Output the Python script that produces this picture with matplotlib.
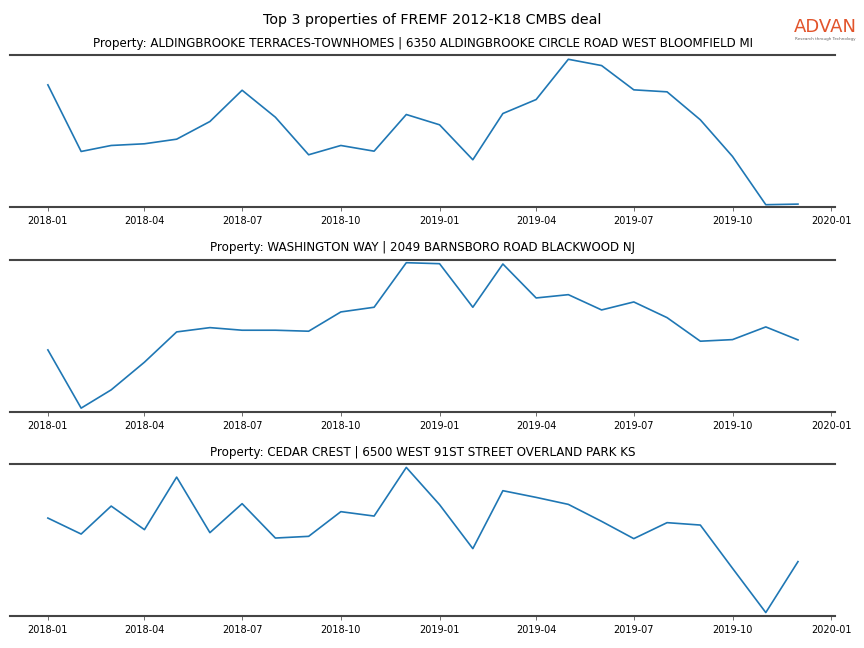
import matplotlib
matplotlib.use('Agg')
import matplotlib.pyplot as plt
import matplotlib.dates as mdates
import pandas as pd

months = pd.date_range('2018-01-01', '2019-12-01', freq='MS')

titles = [
    'Property: ALDINGBROOKE TERRACES-TOWNHOMES | 6350 ALDINGBROOKE CIRCLE ROAD WEST BLOOMFIELD MI',
    'Property: WASHINGTON WAY | 2049 BARNSBORO ROAD BLACKWOOD NJ',
    'Property: CEDAR CREST | 6500 WEST 91ST STREET OVERLAND PARK KS',
]

aldingbrooke = [122.7, 56, 62, 63.7, 68.3, 86, 117.3, 90.3, 52.7, 62, 56.3, 93,
                82.7, 47.7, 94, 108, 148.3, 142, 117.7, 115.7, 87.7, 51, 2.7, 3.3]
washington = [62, 3.7, 22, 49.7, 80, 84.3, 81.7, 81.7, 80.7, 100, 104.7, 149.3,
              148.3, 104.7, 148, 114, 117.3, 102, 110, 94.3, 70.7, 72.3, 85, 72]
cedar_crest = [98.3, 82.3, 110.3, 86.7, 139.3, 83.7, 112.7, 78.3, 80, 104.7, 100.3, 149,
               111.7, 67.7, 125.7, 119, 112, 95, 77.7, 93.7, 91.3, 48, 3.7, 54.7]

series = [aldingbrooke, washington, cedar_crest]

fig, axes = plt.subplots(3, 1, figsize=(8.64, 6.48), dpi=100)
fig.subplots_adjust(left=0.012, right=0.967, top=0.915, bottom=0.049, hspace=0.342)

for ax, vals, title in zip(axes, series, titles):
    ax.plot(months, vals, color='#1f77b4', linewidth=1.2)
    ax.set_ylim(0, 152.5)
    ax.set_title(title, fontsize=8.6)
    ax.set_yticks([])
    ax.spines['left'].set_visible(False)
    ax.spines['right'].set_visible(False)
    for s in ('top', 'bottom'):
        ax.spines[s].set_color('#444444')
        ax.spines[s].set_linewidth(1.5)
    ax.xaxis.set_major_locator(mdates.MonthLocator(bymonth=[1, 4, 7, 10]))
    ax.xaxis.set_major_formatter(mdates.DateFormatter('%Y-%m'))
    ax.tick_params(axis='x', labelsize=7, length=3, width=0.6, color='#555555')

fig.suptitle('Top 3 properties of FREMF 2012-K18 CMBS deal', fontsize=10.3, y=0.98)

# logo
fig.text(0.955, 0.958, 'ADVAN', color='#E2542B', fontsize=13, ha='center', va='center')
fig.text(0.955, 0.94, 'Research through Technology', color='#666666', fontsize=3,
         ha='center', va='center')

fig.savefig('out.png', dpi=100)
